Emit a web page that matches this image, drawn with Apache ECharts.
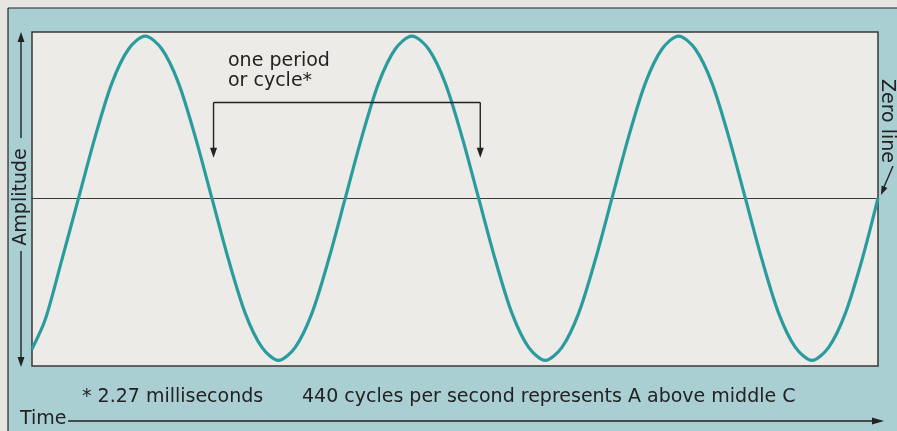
<!DOCTYPE html>
<html>
<head>
<meta charset="utf-8">
<script src="https://cdn.jsdelivr.net/npm/echarts@6/dist/echarts.min.js"></script>
<style>
  html, body { margin: 0; padding: 0; background: #e7e5e1; }
  #chart { width: 897px; height: 431px; }
</style>
</head>
<body>
<div id="chart"></div>
<script>
// Time along the wave, in milliseconds (one period = 2.27 ms, 440 Hz)
const timeMs = [0, 0.112, 0.254,
  0.396, 0.538, 0.680, 0.822, 0.963, 1.105, 1.247, 1.389,
  1.531, 1.673, 1.815, 1.957, 2.098, 2.240, 2.382, 2.524,
  2.666, 2.808, 2.950, 3.092, 3.233, 3.375, 3.517, 3.659,
  3.801, 3.943, 4.085, 4.227, 4.368, 4.510, 4.652, 4.794,
  4.936, 5.078, 5.220, 5.362, 5.503, 5.645, 5.787, 5.929,
  6.071, 6.213, 6.355, 6.497, 6.638, 6.780, 6.922, 7.064, 7.200];
// Relative amplitude of the wave at each time
const amplitude = [-0.93, -0.75, -0.38,
  0, 0.38, 0.71, 0.92, 1, 0.92, 0.71, 0.38,
  0, -0.38, -0.71, -0.92, -1, -0.92, -0.71, -0.38,
  0, 0.38, 0.71, 0.92, 1, 0.92, 0.71, 0.38,
  0, -0.38, -0.71, -0.92, -1, -0.92, -0.71, -0.38,
  0, 0.38, 0.71, 0.92, 1, 0.92, 0.71, 0.38,
  0, -0.38, -0.71, -0.92, -1, -0.92, -0.71, -0.38, 0];
// The bracketed period: from one descending zero crossing to the next
const periodBracket = [1.545, 3.815];

const periodLabel = ['one period', 'or cycle*'];
const footnote = '* 2.27 milliseconds';
const caption = '440 cycles per second represents A above middle C';
const axisNames = { y: 'Amplitude', x: 'Time', zero: 'Zero line' };

const BAND = '#aacfd3';
const PANEL = '#edebe7';
const PAGE = '#e7e5e1';
const WAVE = '#2a9c9e';
const INK = '#222222';
const FONT = '"DejaVu Sans", sans-serif';

const chart = echarts.init(document.getElementById('chart'), null, { renderer: 'canvas' });

chart.setOption({
  animation: false,
  backgroundColor: BAND,
  grid: {
    left: 32, top: 32, width: 846, height: 334,
    show: true, backgroundColor: PANEL, borderColor: '#3a3a3a', borderWidth: 1.5
  },
  xAxis: {
    type: 'value', min: 0, max: 7.2,
    axisLine: { show: true, onZero: true, lineStyle: { color: '#3a3a3a', width: 1 } },
    axisTick: { show: false }, axisLabel: { show: false }, splitLine: { show: false }
  },
  yAxis: {
    type: 'value', min: -1.035, max: 1.025,
    axisLine: { show: false }, axisTick: { show: false },
    axisLabel: { show: false }, splitLine: { show: false }
  },
  series: [{
    type: 'line',
    data: timeMs.map((t, i) => [t, amplitude[i]]),
    smooth: 0.3,
    showSymbol: false,
    lineStyle: { color: WAVE, width: 3.2 },
    z: 3
  }]
});

function px(t, v) { return chart.convertToPixel({ gridIndex: 0 }, [t, v]); }

function arrowHead(tip, dir, len, half) {
  // dir: unit vector the arrow points along
  const bx = tip[0] - dir[0] * len, by = tip[1] - dir[1] * len;
  const nx = -dir[1], ny = dir[0];
  return {
    type: 'polygon', z: 120,
    shape: { points: [[tip[0], tip[1]], [bx + nx * half, by + ny * half], [bx - nx * half, by - ny * half]] },
    style: { fill: INK }
  };
}
function seg(x1, y1, x2, y2, w) {
  return { type: 'line', z: 110, shape: { x1, y1, x2, y2 }, style: { stroke: INK, lineWidth: w || 1.4 } };
}
// text placed by its left edge (or centre) and vertical middle
function label(text, x, y, opts) {
  return Object.assign({
    type: 'text', z: 120, x, y,
    style: Object.assign({ text, fill: INK, font: '19px ' + FONT, align: 'left', verticalAlign: 'middle' },
                         opts && opts.style)
  }, opts && opts.el);
}

const pA = px(periodBracket[0], 0.59);
const pB = px(periodBracket[1], 0.59);
const tipA = px(periodBracket[0], 0.25);
const tipB = px(periodBracket[1], 0.25);

const graphics = [
  // plain page margin above and left of the figure
  { type: 'rect', z: 100, shape: { x: 0, y: 0, width: 897, height: 8 }, style: { fill: PAGE } },
  { type: 'rect', z: 100, shape: { x: 0, y: 0, width: 8, height: 431 }, style: { fill: PAGE } },
  seg(8, 8, 897, 8, 1.2),
  seg(8, 8, 8, 431, 1.2),

  // amplitude double arrow
  seg(21, 138, 21, 40),
  arrowHead([21, 32], [0, -1], 10, 3.5),
  seg(21, 251, 21, 358),
  arrowHead([21, 367], [0, 1], 10, 3.5),
  label(axisNames.y, 21, 197, { el: { rotation: Math.PI / 2 }, style: { align: 'center' } }),

  // period bracket
  seg(pA[0], pA[1], pB[0], pB[1]),
  seg(pA[0], pA[1], tipA[0], tipA[1] - 8),
  seg(pB[0], pB[1], tipB[0], tipB[1] - 8),
  arrowHead(tipA, [0, 1], 10, 3.5),
  arrowHead(tipB, [0, 1], 10, 3.5),
  label(periodLabel[0], 228, 61),
  label(periodLabel[1], 228, 81),

  // zero line callout
  label(axisNames.zero, 887, 121, { el: { rotation: -Math.PI / 2 }, style: { align: 'center' } }),
  seg(893, 166, 884, 187),
  arrowHead([881, 195], [-0.39, 0.92], 9, 3.2),

  // footnotes
  label(footnote, 82, 397),
  label(caption, 302, 397),

  // time axis
  label(axisNames.x, 20, 419),
  seg(68, 421, 874, 421, 1.6),
  arrowHead([884, 421], [1, 0], 12, 3.5)
];

chart.setOption({ graphic: graphics });
</script>
</body>
</html>
